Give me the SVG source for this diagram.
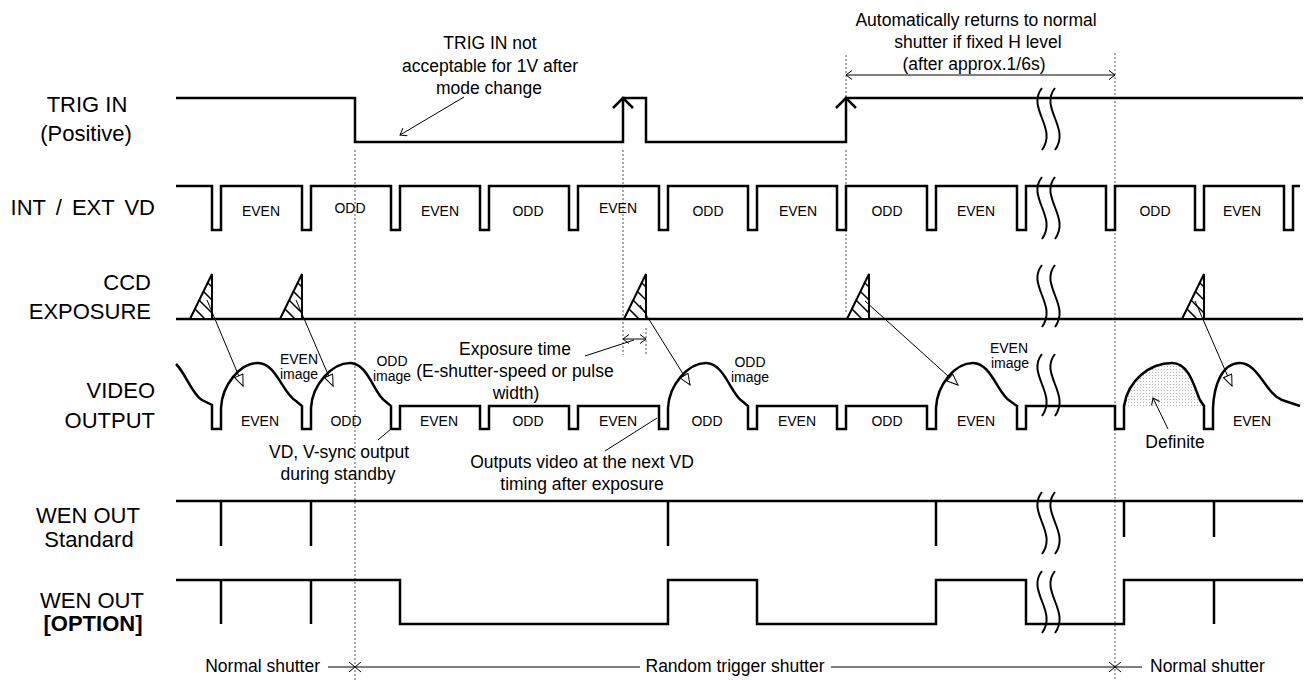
<svg xmlns="http://www.w3.org/2000/svg" width="1304" height="680" viewBox="0 0 1304 680">
<style>
text{font-family:"Liberation Sans",Arial,sans-serif;fill:#000}
.lbl{font-size:22px}
.note{font-size:17.5px}
.w{font-size:14px;text-anchor:middle}
.sig{fill:none;stroke:#000;stroke-width:2.5;stroke-linejoin:miter}
.thin{fill:none;stroke:#000;stroke-width:1}
.dot{fill:none;stroke:#555;stroke-width:1;stroke-dasharray:2,2}
.brk{fill:none;stroke:#000;stroke-width:2}
.mid{text-anchor:middle}
.end{text-anchor:end}
</style>
<defs>
<marker id="v" markerUnits="userSpaceOnUse" markerWidth="12" markerHeight="12" refX="7" refY="5" orient="auto">
<path d="M1,0.5 L7,5 L1,9.5" fill="none" stroke="#000" stroke-width="1"/>
</marker>
<marker id="vs" markerUnits="userSpaceOnUse" markerWidth="12" markerHeight="12" refX="7" refY="5" orient="auto-start-reverse">
<path d="M1,0.5 L7,5 L1,9.5" fill="none" stroke="#000" stroke-width="1"/>
</marker>
<marker id="tri" markerUnits="userSpaceOnUse" markerWidth="14" markerHeight="12" refX="12" refY="5" orient="auto">
<path d="M1,0.5 L12,5 L1,9.5 Z" fill="#fff" stroke="#000" stroke-width="1"/>
</marker>
<pattern id="stip" width="3" height="3" patternUnits="userSpaceOnUse">
<rect width="3" height="3" fill="#fafafa"/>
<rect width="1" height="1" fill="#b4b4b4"/>
</pattern>
<g id="exp">
<polygon points="-22,0 0,-45 0,0" fill="#fff" stroke="#000" stroke-width="2" stroke-linejoin="miter"/>
<path d="M-4.3,-36.3 L0,-32 M-8.5,-27.5 L0,-19 M-12.8,-18.8 L0,-6 M-17.1,-10.1 L-7,0" stroke="#000" stroke-width="1.5" fill="none"/>
</g>
<g id="brk">
<path d="M1042,0 C1026,20 1058,40 1042,62 M1055,0 C1039,20 1071,40 1055,62"/>
</g>
</defs>
<rect width="1304" height="680" fill="#fff"/>

<g id="labels">
<text class="lbl mid" x="87" y="112">TRIG IN</text>
<text class="lbl mid" x="86" y="141">(Positive)</text>
<text class="lbl end" x="155" y="215" word-spacing="4">INT / EXT VD</text>
<text class="lbl end" x="151" y="290">CCD</text>
<text class="lbl end" x="151" y="319">EXPOSURE</text>
<text class="lbl end" x="155" y="398">VIDEO</text>
<text class="lbl end" x="155" y="428">OUTPUT</text>
<text class="lbl mid" x="88" y="523">WEN OUT</text>
<text class="lbl mid" x="89" y="547">Standard</text>
<text class="lbl mid" x="92" y="608">WEN OUT</text>
<text class="lbl mid" x="93" y="631" font-weight="bold">[OPTION]</text>
</g>

<g id="guides">
<line class="dot" x1="355" y1="150" x2="355" y2="680"/>
<line class="dot" x1="623" y1="150" x2="623" y2="355"/>
<line class="dot" x1="646" y1="328" x2="646" y2="355"/>
<line class="dot" x1="846" y1="55" x2="846" y2="97"/>
<line class="dot" x1="846" y1="150" x2="846" y2="312"/>
<line class="dot" x1="1115" y1="53" x2="1115" y2="680"/>
</g>

<g id="trig-in">
<path class="sig" d="M176,98 H355 V142 H623 V98 H646 V142 H846 V98 H1303"/>
<path class="sig" d="M613,108 L623,98 L633,108 M836,108 L846,98 L856,108"/>
<use href="#brk" class="brk" transform="translate(0,88)"/>
</g>

<g id="int-ext-vd">
<path class="sig" d="M176,186 H212 V230 H221 V186 H302 V230 H311 V186 H391 V230 H400 V186 H480 V230 H489 V186 H569 V230 H578 V186 H659 V230 H668 V186 H748 V230 H757 V186 H837 V230 H846 V186 H927 V230 H936 V186 H1017 V230 H1026 V186 H1106 V230 H1115 V186 H1195 V230 H1204 V186 H1284 V230 H1293 V186 H1300"/>
<use href="#brk" class="brk" transform="translate(0,177)"/>
<text class="w" x="261" y="216">EVEN</text>
<text class="w" x="350" y="213">ODD</text>
<text class="w" x="440" y="216">EVEN</text>
<text class="w" x="528" y="216">ODD</text>
<text class="w" x="618" y="213">EVEN</text>
<text class="w" x="708" y="216">ODD</text>
<text class="w" x="798" y="216">EVEN</text>
<text class="w" x="887" y="216">ODD</text>
<text class="w" x="976" y="216">EVEN</text>
<text class="w" x="1155" y="216">ODD</text>
<text class="w" x="1242" y="216">EVEN</text>
</g>

<g id="ccd-exposure">
<line class="sig" x1="176" y1="319" x2="1303" y2="319"/>
<use href="#exp" transform="translate(212,319)"/>
<use href="#exp" transform="translate(302,319)"/>
<use href="#exp" transform="translate(646,319)"/>
<use href="#exp" transform="translate(869,319)"/>
<use href="#exp" transform="translate(1204,319)"/>
<use href="#brk" class="brk" transform="translate(0,265)"/>
</g>

<g id="video-output">
<path d="M1124,406 C1128,380 1150,363 1172,363 C1190,363 1195,390 1200,400 L1204,406 Z" fill="url(#stip)"/>
<path class="sig" d="M176,364 C186,374 192,394 202,400 L212,405 V429 H221 V408 C222,385 240,363 258,363 C276,363 283,394 296,401 L302,406 V429 H311 V408 C312,385 332,363 350,363 C368,363 374,394 385,401 L391,406 V429 H400 V406 H480 V429 H489 V406 H569 V429 H578 V406 H659 V429 H668 V408 C669,385 688,363 706,363 C724,363 731,394 742,401 L748,406 V429 H757 V406 H837 V429 H846 V406 H927 V429 H936 V408 C937,385 955,363 973,363 C991,363 998,394 1010,401 L1017,406 V429 H1026 V406 H1115 V429 H1124 V406 C1128,380 1150,363 1172,363 C1190,363 1195,390 1200,400 L1204,406 V429 H1213 V408 C1214,385 1222,363 1240,363 C1258,363 1266,394 1282,400 L1300,406"/>
<use href="#brk" class="brk" transform="translate(0,354)"/>
<text class="w" x="260" y="426">EVEN</text>
<text class="w" x="346" y="426">ODD</text>
<text class="w" x="439" y="426">EVEN</text>
<text class="w" x="528" y="426">ODD</text>
<text class="w" x="618" y="426">EVEN</text>
<text class="w" x="707" y="426">ODD</text>
<text class="w" x="797" y="426">EVEN</text>
<text class="w" x="887" y="426">ODD</text>
<text class="w" x="976" y="426">EVEN</text>
<text class="w" x="1252" y="426">EVEN</text>
<text class="w" x="299" y="364">EVEN</text>
<text class="w" x="299" y="379">image</text>
<text class="w" x="392" y="366">ODD</text>
<text class="w" x="392" y="381">image</text>
<text class="w" x="750" y="367">ODD</text>
<text class="w" x="750" y="382">image</text>
<text class="w" x="1009" y="353">EVEN</text>
<text class="w" x="1010" y="368">image</text>
</g>

<g id="wen-out-standard">
<path class="sig" d="M176,501 H1303 M221,501 V546 M311,501 V546 M668,501 V546 M936,501 V546 M1124,501 V537 M1214,501 V537"/>
<use href="#brk" class="brk" transform="translate(0,492)"/>
</g>

<g id="wen-out-option">
<path class="sig" d="M176,580 H400 V624 H668 V580 H757 V624 H936 V580 H1026 V624 H1124 V580 H1303 M221,580 V624 M311,580 V624 M1214,580 V624"/>
<use href="#brk" class="brk" transform="translate(0,571)"/>
</g>

<g id="connectors">
<line class="thin" x1="207" y1="300" x2="243" y2="386" marker-end="url(#tri)"/>
<line class="thin" x1="296" y1="300" x2="333" y2="386" marker-end="url(#tri)"/>
<line class="thin" x1="640" y1="305" x2="690" y2="385" marker-end="url(#tri)"/>
<line class="thin" x1="865" y1="301" x2="958" y2="385" marker-end="url(#tri)"/>
<line class="thin" x1="1195" y1="301" x2="1232" y2="386" marker-end="url(#tri)"/>
<line class="thin" x1="464" y1="97" x2="400" y2="135" marker-end="url(#v)"/>
<line class="thin" x1="846" y1="75" x2="1115" y2="75" marker-start="url(#vs)" marker-end="url(#vs)"/>
<line class="thin" x1="623" y1="339" x2="646" y2="339" marker-start="url(#vs)" marker-end="url(#vs)"/>
<line class="thin" x1="585" y1="356" x2="634" y2="340"/>
<line class="thin" x1="378" y1="440" x2="391" y2="429"/>
<line class="thin" x1="605" y1="451" x2="657" y2="418"/>
<line class="thin" x1="1168" y1="429" x2="1153" y2="398" marker-end="url(#v)"/>
<path class="thin" d="M328,667 H640 M831,667 H1142 M349,662 L361,672 M349,672 L361,662 M1109,662 L1121,672 M1109,672 L1121,662"/>
</g>

<g id="notes">
<text class="note mid" x="490" y="49">TRIG IN not</text>
<text class="note mid" x="490" y="72">acceptable for 1V after</text>
<text class="note mid" x="489" y="94">mode change</text>
<text class="note mid" x="976" y="26">Automatically returns to normal</text>
<text class="note mid" x="978" y="48">shutter if fixed H level</text>
<text class="note mid" x="974" y="70">(after approx.1/6s)</text>
<text class="note mid" x="515" y="355">Exposure time</text>
<text class="note mid" x="515" y="377">(E-shutter-speed or pulse</text>
<text class="note mid" x="516" y="399">width)</text>
<text class="note mid" x="339" y="458">VD, V-sync output</text>
<text class="note mid" x="338" y="480">during standby</text>
<text class="note mid" x="582" y="468">Outputs video at the next VD</text>
<text class="note mid" x="582" y="490">timing after exposure</text>
<text class="note mid" x="1175" y="448">Definite</text>
<text class="note end" x="320" y="672">Normal shutter</text>
<text class="note mid" x="735" y="672">Random trigger shutter</text>
<text class="note" x="1150" y="672">Normal shutter</text>
</g>
</svg>
